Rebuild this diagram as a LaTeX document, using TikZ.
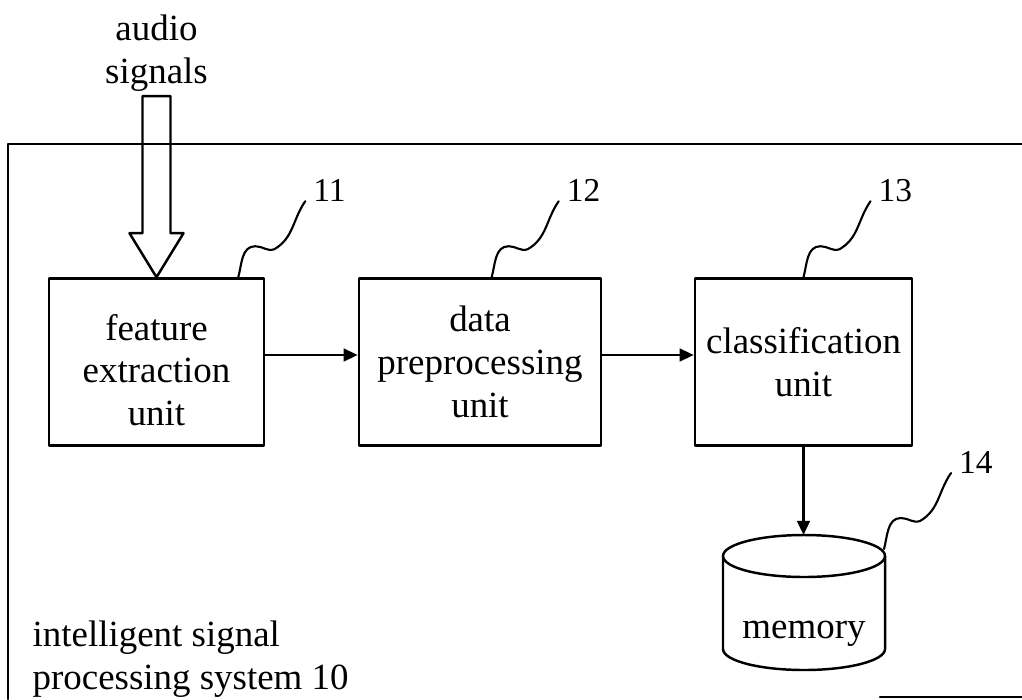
\documentclass[tikz,border=0pt]{standalone}
\usepackage{fontspec}
\setmainfont{Liberation Serif}
\usetikzlibrary{arrows.meta,calc}
\newcommand{\unitfont}{\fontsize{10.5}{12.2}\selectfont}
\newcommand{\numfont}{\fontsize{9.5}{11}\selectfont}
\tikzset{
  unitbox/.style={draw,line width=0.7pt,inner sep=2pt,align=center,font=\unitfont,minimum height=1.67cm},
  flow/.style={line width=0.7pt,-{Triangle[length=4pt,width=3.6pt]}},
  leader/.style={line width=0.6pt},
  numlabel/.style={anchor=base west,inner sep=2pt,font=\numfont},
  every picture/.style={line cap=round,line join=round}
}

\begin{document}
\begin{tikzpicture}[x=0.01cm,y=0.01cm]
  \useasboundingbox (0,0) rectangle (1022,699);
  % system frame
  \draw[line width=0.7pt] (8,0) -- (8,555) -- (1022,555);
  \draw[line width=0.7pt] (880,2) -- (1022,2);
  \node[font=\unitfont,align=left,anchor=west,inner sep=0pt] (sys) at (32,40)
    {intelligent signal\\processing system 10};

  % units
  \node[unitbox,minimum width=2.15cm] (feat) at (156.5,337)
    {\rule{0pt}{12pt}feature\\extraction\\unit};
  \node[unitbox,minimum width=2.42cm] (data) at (480,337) {data\\preprocessing\\unit};
  \node[unitbox,minimum width=2.17cm] (cls) at (803.5,337) {classification\\unit};
  \draw[flow] ([yshift=0.07cm]feat.east) -- ([yshift=0.07cm]data.west);
  \draw[flow] ([yshift=0.07cm]data.east) -- ([yshift=0.07cm]cls.west);

  % input
  \node[font=\unitfont,align=center] (src) at (156.5,646) {audio\\signals};
  \draw[line width=0.7pt] (feat.north) -- ++(27,44) -- ++(-13,0) -- ++(0,137)
    -- ++(-28,0) -- ++(0,-137) -- ++(-13,0) -- cycle;

  % memory
  \coordinate (memtop) at (804,164);
  \draw[line width=0.7pt] (723,143) -- (723,50)
    arc[start angle=180,end angle=360,x radius=81,y radius=21] -- (885,143);
  \draw[line width=0.7pt] (804,143) ellipse[x radius=81,y radius=21];
  \node[font=\unitfont] (mem) at (804,65) {memory};
  \draw[flow] (cls.south) -- (cls.south |- memtop);

  % reference numerals
  \coordinate (l11) at ($(feat.north east)+(-27,0)$);
  \coordinate (l12) at ($(data.north west)+(134,0)$);
  \coordinate (l13) at (cls.north);
  \coordinate (l14) at (884,150);
  \foreach \n in {11,12,13,14}
    \draw[leader] (l\n) to[out=75,in=180] ++(17,31) to[out=0,in=200] ++(19,-3)
      to[out=30,in=235] ++(31,48) node[numlabel] {\n};
\end{tikzpicture}
\end{document}
